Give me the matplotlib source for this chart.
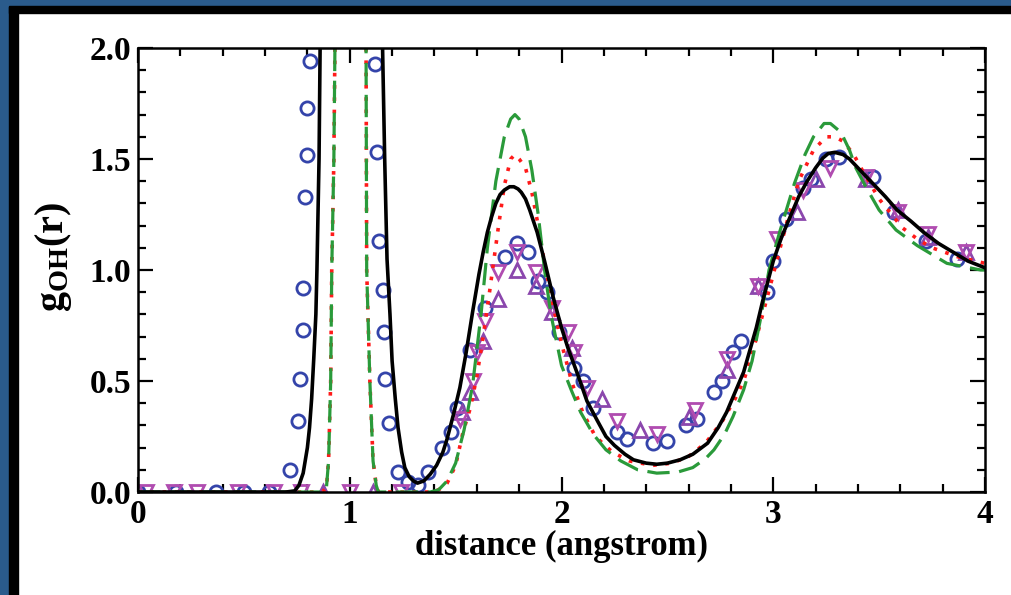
import matplotlib
matplotlib.use('Agg')
import matplotlib.pyplot as plt
from matplotlib.patches import Rectangle
from matplotlib.ticker import MultipleLocator

plt.rcParams['font.family'] = ['Liberation Serif', 'DejaVu Serif']
plt.rcParams['font.weight'] = 'bold'
plt.rcParams['mathtext.fontset'] = 'custom'
plt.rcParams['mathtext.rm'] = 'Liberation Serif:bold'
plt.rcParams['mathtext.bf'] = 'Liberation Serif:bold'
plt.rcParams['mathtext.it'] = 'Liberation Serif:bold'

# black solid curve
black_x = [0.0, 0.70, 0.74, 0.76, 0.78, 0.80, 0.81, 0.82, 0.83, 0.84, 0.845, 0.855, 0.86, 0.88, 0.95,
           1.0, 1.05, 1.12, 1.155, 1.165, 1.176, 1.19, 1.20, 1.215, 1.228, 1.245, 1.26, 1.28, 1.30,
           1.32, 1.35, 1.38, 1.41, 1.44, 1.46, 1.49, 1.52, 1.55, 1.58, 1.61, 1.63, 1.65, 1.67, 1.69,
           1.71, 1.73, 1.755, 1.775, 1.795, 1.81, 1.83, 1.85, 1.885, 1.92, 1.96, 2.00, 2.03, 2.08,
           2.12, 2.17, 2.21, 2.25, 2.30, 2.34, 2.40, 2.45, 2.50, 2.56, 2.62, 2.69, 2.74, 2.78, 2.82,
           2.86, 2.89, 2.92, 2.95, 3.00, 3.04, 3.08, 3.12, 3.16, 3.20, 3.235, 3.26, 3.29, 3.33, 3.36,
           3.41, 3.47, 3.53, 3.585, 3.65, 3.71, 3.78, 3.85, 3.92, 4.0]
black_y = [0.0, 0.0, 0.005, 0.03, 0.085, 0.2, 0.29, 0.42, 0.6, 0.8, 1.0, 1.5, 2.0, 3.5, 6.0,
           7.0, 6.0, 3.5, 2.0, 1.5, 1.05, 0.8, 0.59, 0.42, 0.29, 0.18, 0.11, 0.07, 0.05,
           0.04, 0.05, 0.08, 0.12, 0.18, 0.24, 0.35, 0.47, 0.63, 0.81, 0.98, 1.08, 1.17, 1.24, 1.30,
           1.34, 1.36, 1.375, 1.375, 1.365, 1.35, 1.32, 1.27, 1.17, 1.04, 0.88, 0.74, 0.65, 0.52,
           0.41, 0.32, 0.25, 0.21, 0.17, 0.145, 0.13, 0.125, 0.13, 0.145, 0.17, 0.22, 0.29, 0.36, 0.45,
           0.54, 0.64, 0.74, 0.86, 1.04, 1.15, 1.24, 1.33, 1.40, 1.46, 1.505, 1.525, 1.53, 1.52, 1.50,
           1.45, 1.39, 1.33, 1.27, 1.22, 1.17, 1.12, 1.08, 1.04, 1.01]

# red dotted curve
red_x = [0.0, 0.87, 0.89, 0.90, 0.91, 0.915, 0.925, 0.93, 0.95, 1.0, 1.05, 1.077, 1.08, 1.095, 1.11,
         1.125, 1.135, 1.38, 1.42, 1.46, 1.50, 1.535, 1.57, 1.60, 1.63, 1.66, 1.70, 1.73, 1.76, 1.78,
         1.80, 1.83, 1.86, 1.89, 1.92, 1.96, 2.00, 2.05, 2.10, 2.16, 2.24, 2.32, 2.43, 2.52, 2.60,
         2.68, 2.76, 2.82, 2.86, 2.90, 2.95, 3.00, 3.06, 3.12, 3.19, 3.25, 3.29, 3.33, 3.38, 3.42,
         3.50, 3.61, 3.68, 3.75, 3.87, 4.0]
red_y = [0.0, 0.0, 0.02, 0.14, 0.5, 1.0, 1.5, 2.0, 5.0, 12.0, 5.0, 2.0, 1.0, 0.5, 0.14,
         0.03, 0.0, 0.0, 0.01, 0.04, 0.12, 0.27, 0.38, 0.52, 0.70, 0.90, 1.18, 1.38, 1.50, 1.52,
         1.50, 1.46, 1.35, 1.20, 1.03, 0.84, 0.67, 0.49, 0.36, 0.25, 0.18, 0.14, 0.12, 0.13, 0.16,
         0.22, 0.32, 0.42, 0.50, 0.62, 0.80, 0.98, 1.20, 1.40, 1.54, 1.60, 1.60, 1.58, 1.52, 1.45,
         1.32, 1.19, 1.14, 1.10, 1.06, 1.03]

# green dashed curve
green_x = [0.0, 0.87, 0.89, 0.90, 0.91, 0.915, 0.925, 0.93, 0.95, 1.0, 1.05, 1.077, 1.08, 1.095, 1.11,
           1.125, 1.135, 1.38, 1.42, 1.46, 1.50, 1.54, 1.58, 1.62, 1.65, 1.69, 1.73, 1.76, 1.78, 1.80,
           1.83, 1.86, 1.89, 1.92, 1.95, 2.00, 2.05, 2.09, 2.15, 2.21, 2.28, 2.36, 2.45, 2.55, 2.62,
           2.68, 2.72, 2.77, 2.81, 2.86, 2.90, 2.94, 2.98, 3.03, 3.10, 3.15, 3.19, 3.24, 3.27, 3.32,
           3.36, 3.39, 3.44, 3.50, 3.58, 3.68, 3.82, 3.98, 4.0]
green_y = [0.0, 0.0, 0.02, 0.14, 0.5, 1.0, 1.5, 2.0, 5.0, 12.0, 5.0, 2.0, 1.0, 0.5, 0.14,
           0.03, 0.0, 0.0, 0.01, 0.05, 0.13, 0.28, 0.48, 0.80, 1.10, 1.40, 1.60, 1.68, 1.70, 1.68,
           1.60, 1.45, 1.25, 1.00, 0.80, 0.57, 0.45, 0.36, 0.26, 0.19, 0.14, 0.10, 0.085, 0.09, 0.11,
           0.15, 0.19, 0.26, 0.34, 0.46, 0.59, 0.78, 1.00, 1.17, 1.39, 1.52, 1.60, 1.66, 1.66, 1.62,
           1.54, 1.46, 1.37, 1.27, 1.18, 1.11, 1.03, 1.00, 1.00]

# blue circles
circ_x = [0.0, 0.18, 0.37, 0.50, 0.62, 0.72, 0.757, 0.765, 0.78, 0.78, 0.79, 0.80, 0.80, 0.81,
          1.12, 1.13, 1.14, 1.157, 1.16, 1.167, 1.185, 1.23, 1.275, 1.32, 1.37, 1.435, 1.48, 1.505,
          1.57, 1.64, 1.733, 1.79, 1.84, 1.89, 1.93, 1.99, 2.06, 2.10, 2.15, 2.26, 2.31, 2.43, 2.50,
          2.59, 2.64, 2.72, 2.76, 2.81, 2.85, 2.97, 3.00, 3.06, 3.14, 3.18, 3.25, 3.31, 3.47, 3.57,
          3.72, 3.87]
circ_y = [0.0, 0.0, 0.0, 0.0, 0.0, 0.10, 0.32, 0.51, 0.73, 0.92, 1.33, 1.52, 1.73, 1.94,
          1.93, 1.53, 1.13, 0.91, 0.72, 0.51, 0.31, 0.09, 0.045, 0.03, 0.09, 0.20, 0.27, 0.38,
          0.64, 0.83, 1.06, 1.12, 1.08, 0.95, 0.90, 0.72, 0.56, 0.50, 0.38, 0.27, 0.24, 0.22, 0.23,
          0.30, 0.33, 0.45, 0.50, 0.63, 0.68, 0.90, 1.04, 1.23, 1.37, 1.41, 1.50, 1.51, 1.42, 1.26,
          1.13, 1.05]

# purple up triangles
up_x = [0.875, 1.11, 1.53, 1.57, 1.63, 1.70, 1.79, 1.88, 1.955, 2.05, 2.19, 2.37, 2.60, 2.78,
        2.93, 3.11, 3.20, 3.44, 3.59, 3.73, 3.91]
up_y = [0.0, 0.0, 0.36, 0.45, 0.68, 0.87, 1.00, 0.93, 0.81, 0.65, 0.42, 0.28, 0.34, 0.55,
        0.93, 1.26, 1.41, 1.41, 1.27, 1.15, 1.08]

# magenta down triangles
down_x = [0.04, 0.17, 0.28, 0.47, 0.64, 0.77, 1.0, 1.24, 1.52, 1.58, 1.60, 1.64, 1.70, 1.79, 1.88,
          1.955, 2.03, 2.06, 2.12, 2.26, 2.45, 2.63, 2.78, 2.93, 3.02, 3.14, 3.27, 3.44, 3.59, 3.73,
          3.91]
down_y = [0.0, 0.0, 0.0, 0.0, 0.0, 0.0, 0.0, 0.0, 0.33, 0.50, 0.63, 0.77, 0.99, 1.08, 0.99,
          0.83, 0.72, 0.63, 0.47, 0.32, 0.26, 0.37, 0.60, 0.93, 1.14, 1.36, 1.46, 1.42, 1.26, 1.16,
          1.08]

fig = plt.figure(figsize=(10.11, 5.95), dpi=100)
fig.patch.set_facecolor('white')

# slide frame: blue band with black edge on top and left
W, H = 1011.0, 595.0
fig.add_artist(Rectangle((0, 0), 9 / W, 1, transform=fig.transFigure, color='#2a5b8c', zorder=0))
fig.add_artist(Rectangle((9 / W, 0), 9 / W, 1 - 6 / H, transform=fig.transFigure, color='black', zorder=0))
fig.add_artist(Rectangle((0, 1 - 6 / H), 1, 6 / H, transform=fig.transFigure, color='#2a5b8c', zorder=0))
fig.add_artist(Rectangle((9 / W, 1 - 13 / H), 1, 7 / H, transform=fig.transFigure, color='black', zorder=0))

ax = fig.add_axes([138 / W, 1 - 492 / H, (985 - 138) / W, (492 - 48) / H])

mk = dict(linestyle='none', markerfacecolor='none', markersize=9.5, markeredgewidth=2.0)
ax.plot(circ_x, circ_y, marker='o', color='#3444aa', **mk)
ax.plot(up_x, up_y, marker='^', color='#8b47ad', **mk)
ax.plot(down_x, down_y, marker='v', color='#b04cb0', **mk)

ax.plot(red_x, red_y, color='#ff1a1a', lw=2.6, linestyle=(0, (1, 2.4)))
ax.plot(green_x, green_y, color='#2a9a3a', lw=2.3, linestyle=(0, (7, 3)))
ax.plot(black_x, black_y, color='black', lw=2.6)

ax.set_xlim(0, 4)
ax.set_ylim(0, 2)
ax.xaxis.set_major_locator(MultipleLocator(1))
ax.xaxis.set_minor_locator(MultipleLocator(0.2))
ax.yaxis.set_major_locator(MultipleLocator(0.5))
ax.yaxis.set_minor_locator(MultipleLocator(0.1))
ax.yaxis.set_major_formatter(plt.FuncFormatter(lambda v, p: f'{v:.1f}'))

ax.tick_params(which='both', direction='in', top=True, right=True, width=1.6)
ax.tick_params(which='major', length=11, pad=5, labelsize=24)
ax.tick_params(which='minor', length=6)
for s in ax.spines.values():
    s.set_linewidth(1.8)

ax.set_xlabel('distance (angstrom)', fontsize=25, fontweight='bold', labelpad=0)
ax.set_ylabel(r'g$_{\mathbf{OH}}$(r)', fontsize=29, fontweight='bold')
ax.yaxis.set_label_coords(-0.075, 0.53)

fig.savefig('out.png', dpi=100)
